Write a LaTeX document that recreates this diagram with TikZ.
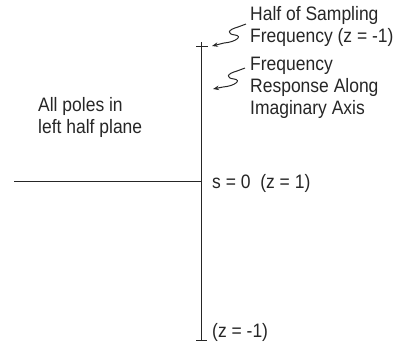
\documentclass[tikz,border=0pt]{standalone}
\usepackage{fontspec}
\setmainfont[FakeStretch=0.9]{Liberation Sans}
\usetikzlibrary{arrows.meta}
\begin{document}
\begin{tikzpicture}[x=1bp,y=-1bp,
  axis/.style={line width=0.95pt,black!85},
  lbl/.style={font=\fontsize{19.5}{22}\selectfont,text=black!85,inner sep=0pt,align=left},
  squig/.style={line width=1pt,black!85,-{Stealth[length=6pt,width=4.5pt]}}]
\useasboundingbox (0,0) rectangle (401,343);
% axes
\coordinate (top) at (201,42);
\coordinate (bot) at (201,340);
\coordinate (left) at (14,181);
\coordinate (orig) at (201,181);
\draw[axis] (top) -- (bot);
\draw[axis] (left) -- (orig);
\coordinate (tt1) at (196,46);
\coordinate (tt2) at (208,46);
\draw[axis] (tt1) -- (tt2);
\coordinate (bt1) at (196,340);
\coordinate (bt2) at (207,340);
\draw[axis] (bt1) -- (bt2);
% labels
\node[lbl,anchor=north west] (half) at (250,6) {Half of Sampling\\Frequency (z = -1)};
\node[lbl,anchor=north west] (resp) at (250,57) {Frequency\\Response Along\\Imaginary Axis};
\node[lbl,anchor=north west] (poles) at (38,97) {All poles in\\left half plane};
\node[lbl,anchor=base west] (s0) at (212,188) {s = 0\ \ (z = 1)};
\node[lbl,anchor=base west] (zm) at (212,337) {(z = -1)};
% squiggle arrows
\coordinate (a1s) at (246,24);
\coordinate (a1e) at (212,46);
\draw[squig] (a1s) -- (238,27) .. controls (227,30) and (227,34) .. (235,35) .. controls (243,36) and (236,42) .. (224,43) -- (a1e);
\coordinate (a2s) at (245,68);
\coordinate (a2e) at (213,89);
\draw[squig] (a2s) -- (237,71) .. controls (226,74) and (226,78) .. (234,79) .. controls (242,80) and (235,86) .. (223,87) -- (a2e);
\end{tikzpicture}
\end{document}
